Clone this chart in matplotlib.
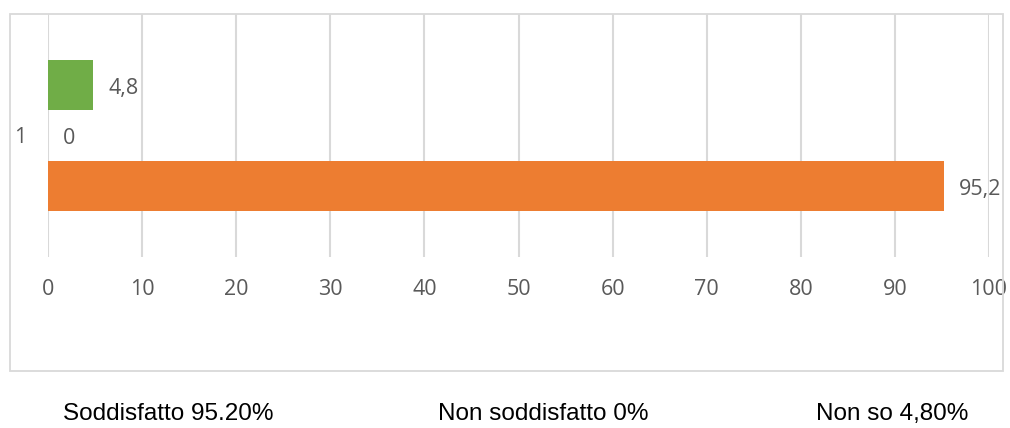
import matplotlib.pyplot as plt
from matplotlib.patches import Rectangle

# series (Excel order: first series drawn at the bottom)
series_names = ["Soddisfatto", "Non soddisfatto", "Non so"]
series_values = [95.2, 0, 4.8]
series_colors = ["#ED7D31", "#A5A5A5", "#70AD47"]
category = "1"
footer_labels = ["Soddisfatto 95.20%", "Non soddisfatto 0%", "Non so 4,80%"]
xticks = list(range(0, 101, 10))

grid_col = "#D9D9D9"
text_col = "#595959"
tick_font = ["Open Sans", "DejaVu Sans"]
fs = 15.5

fig = plt.figure(figsize=(10.1, 4.28), dpi=100)

# outer chart border
fig.patches.append(Rectangle((10 / 1010, 1 - 371 / 428), 993 / 1010, 357 / 428,
                             transform=fig.transFigure, fill=False,
                             edgecolor=grid_col, lw=1.3))

ax = fig.add_axes([48 / 1010, 1 - 257 / 428, 941 / 1010, 243 / 428])
ypos = [-1, 0, 1]
bars = ax.barh(ypos, series_values, height=0.99, color=series_colors, zorder=3)
for y, v in zip(ypos, series_values):
    lab = f"{v:g}".replace(".", ",")
    ax.text(v + 1.6, y - 0.06, lab, va="center", ha="left", fontsize=fs,
            color=text_col, family=tick_font)

ax.set_xlim(0, 100)
ax.set_ylim(-2.4, 2.41)
ax.set_xticks(xticks)
ax.set_xticklabels([str(t) for t in xticks], fontsize=fs, color=text_col,
                   family=tick_font)
ax.tick_params(axis="x", length=0, pad=15.5)
ax.set_yticks([])
ax.grid(axis="x", color=grid_col, lw=1.5, zorder=0)
for s in ax.spines.values():
    s.set_visible(False)
ax.text(-3.0, -0.04, category, ha="center", va="center", fontsize=fs,
        color=text_col, family=tick_font)

xs = [168 / 1010, 543 / 1010, 892 / 1010]
for x, t in zip(xs, footer_labels):
    fig.text(x, 1 - 414 / 428, t, ha="center", va="center", fontsize=17.5,
             family=["Liberation Sans", "DejaVu Sans"], color="black")

fig.savefig("out.png", dpi=100)
